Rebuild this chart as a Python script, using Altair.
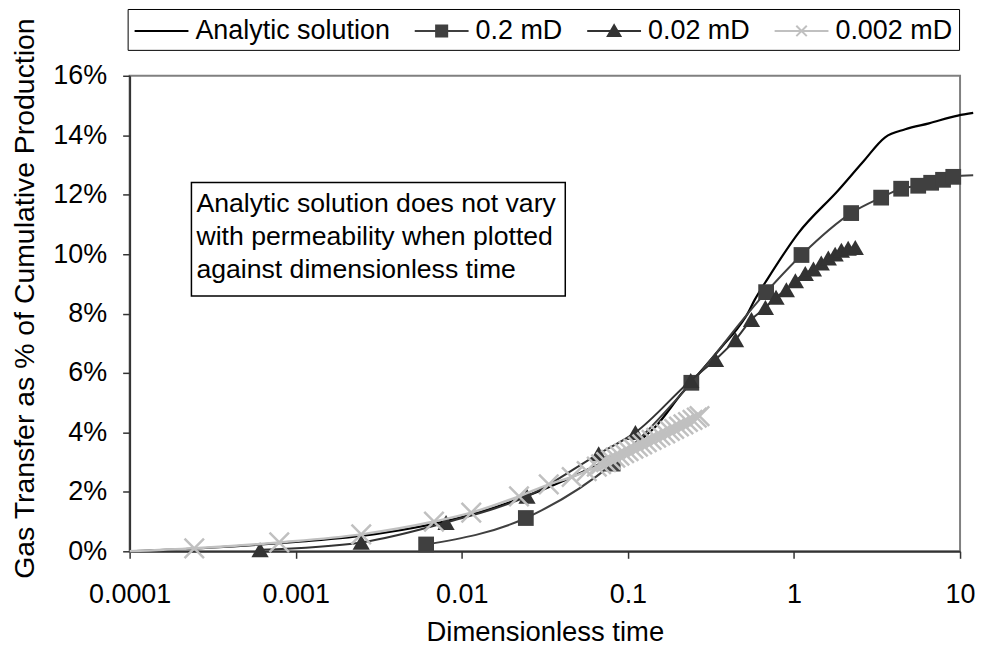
import altair as alt
import pandas as pd

FONT = "Liberation Sans"

series_names = ["Analytic solution", "0.2 mD", "0.02 mD", "0.002 mD"]
series_colors = ["#000000", "#404040", "#333333", "#c0c0c0"]
legend_paths = [
    "M-1.8,0H1.8",
    "M-1.8,0H1.8M-0.37,-0.37H0.37V0.37H-0.37Z",
    "M-1.8,0H1.8M0,-0.38L0.42,0.34H-0.42Z",
    "M-1.8,0H1.8M-0.35,-0.35L0.35,0.35M-0.35,0.35L0.35,-0.35",
]

# Analytic solution (line only)
analytic_t = [0.0001, 0.0003, 0.001, 0.003, 0.01, 0.03, 0.06, 0.1, 0.147, 0.21, 0.3, 0.37,
              0.45, 0.52, 0.58, 0.7, 1.06, 1.85, 2.6, 3.54, 4.68, 6.5, 9.7, 12.0]
analytic_v = [0.0, 0.12, 0.32, 0.58, 1.15, 2.05, 2.8, 3.45, 4.2, 5.3, 6.3, 6.9,
              7.45, 7.95, 8.46, 9.2, 10.7, 12.15, 13.1, 13.93, 14.2, 14.4, 14.66, 14.75]

# 0.2 mD (squares)
sq_t = [0.0061, 0.0243, 0.081, 0.241, 0.68, 1.11, 2.21, 3.35, 4.42, 5.6, 6.7, 7.9, 9.1]
sq_v = [0.23, 1.12, 2.95, 5.67, 8.72, 9.97, 11.38, 11.9, 12.2, 12.3, 12.4, 12.5, 12.6]
sq_line_t = sq_t + [12.0]
sq_line_v = sq_v + [12.65]

# 0.02 mD (triangles)
tri_t = [0.00061, 0.00248, 0.00804, 0.0247, 0.0667, 0.111, 0.239, 0.337, 0.445, 0.555,
         0.673, 0.78, 0.90, 1.02, 1.17, 1.31, 1.46, 1.61, 1.77, 1.93, 2.12, 2.34]
tri_v = [0.05, 0.3, 0.97, 1.85, 3.28, 4.0, 5.75, 6.45, 7.12, 7.8, 8.2, 8.55, 8.8, 9.1,
         9.35, 9.5, 9.7, 9.87, 10.0, 10.13, 10.2, 10.22]

# 0.002 mD (x markers)
x_t = [0.0001, 0.000245, 0.000796, 0.00248, 0.0068, 0.0114, 0.0221, 0.0334, 0.0459, 0.0565,
       0.065, 0.069, 0.074, 0.079, 0.084, 0.089, 0.095, 0.101, 0.108, 0.115, 0.122, 0.130,
       0.139, 0.148, 0.157, 0.168, 0.179, 0.190, 0.203, 0.216, 0.230, 0.245, 0.26, 0.27]
x_v = [0.0, 0.1, 0.3, 0.57, 1.0, 1.3, 1.85, 2.25, 2.5, 2.7,
       2.85, 2.93, 3.0, 3.08, 3.15, 3.22, 3.3, 3.37, 3.45, 3.52, 3.6, 3.67,
       3.75, 3.82, 3.9, 3.97, 4.05, 4.12, 4.2, 4.27, 4.35, 4.42, 4.5, 4.55]

x_ticks = [0.0001, 0.001, 0.01, 0.1, 1, 10]
y_ticks = [0, 2, 4, 6, 8, 10, 12, 14, 16]

note_text = "Analytic solution does not vary\nwith permeability when plotted\nagainst dimensionless time"


def frame(t, v):
    return pd.DataFrame({"t": t, "v": v})


x_enc = alt.X(
    "t:Q",
    scale=alt.Scale(type="log", domain=[0.0001, 10], nice=False),
    axis=alt.Axis(
        values=x_ticks, format="~g", title="Dimensionless time", grid=False,
        labelFont=FONT, labelFontSize=27, labelColor="#000", labelPadding=23,
        titleFont=FONT, titleFontSize=27.5, titleFontWeight="normal", titleColor="#000",
        titlePadding=11, tickSize=7, tickColor="#333", tickWidth=1.5,
        domainColor="#333", domainWidth=2, labelFlush=False, labelOverlap=False,
    ),
)
y_enc = alt.Y(
    "v:Q",
    scale=alt.Scale(domain=[0, 16], nice=False),
    axis=alt.Axis(
        values=y_ticks, labelExpr="datum.value + '%'",
        title="Gas Transfer as % of Cumulative Production", grid=False,
        labelFont=FONT, labelFontSize=27, labelColor="#000", labelPadding=16,
        titleFont=FONT, titleFontSize=28.5, titleFontWeight="normal", titleColor="#000",
        titlePadding=13, titleY=223, tickSize=7, tickColor="#333", tickWidth=1.5,
        domainColor="#333", domainWidth=2, labelFlush=False,
    ),
)

analytic_line = alt.Chart(frame(analytic_t, analytic_v)).mark_line(
    color="#000000", strokeWidth=2.2, interpolate="monotone", clip=False
).encode(x=x_enc, y=y_enc)

sq_line = alt.Chart(frame(sq_line_t, sq_line_v)).mark_line(
    color="#404040", strokeWidth=2, interpolate="monotone", clip=False
).encode(x=x_enc, y=y_enc)
sq_pts = alt.Chart(frame(sq_t, sq_v)).mark_point(
    shape="square", filled=True, size=250, color="#404040", opacity=1
).encode(x=x_enc, y=y_enc)

tri_line = alt.Chart(frame(tri_t, tri_v)).mark_line(
    color="#333333", strokeWidth=2, interpolate="monotone"
).encode(x=x_enc, y=y_enc)
tri_pts = alt.Chart(frame(tri_t, tri_v)).mark_point(
    shape="triangle-up", filled=True, size=300, color="#333333", opacity=1
).encode(x=x_enc, y=y_enc)

x_line = alt.Chart(frame(x_t, x_v)).mark_line(
    color="#c0c0c0", strokeWidth=2.5, interpolate="monotone"
).encode(x=x_enc, y=y_enc)
x_pts = alt.Chart(frame(x_t[1:], x_v[1:])).mark_point(
    shape="M-1,-1L1,1M-1,1L1,-1", filled=False, size=380, color="#c0c0c0",
    strokeWidth=2.5, opacity=1
).encode(x=x_enc, y=y_enc)

leg = alt.Legend(
    title=None, orient="none", legendX=-2, legendY=-67, direction="horizontal", columns=4,
    symbolSize=900, symbolStrokeWidth=2, symbolOpacity=1, symbolOffset=12,
    labelFont=FONT, labelFontSize=27,
    labelColor="#000", labelOffset=18, columnPadding=20, padding=6,
    strokeColor="#000", fillColor="#ffffff", labelLimit=400,
)
legend_df = pd.DataFrame({"series": series_names, "t": [1, 1, 1, 1], "v": [1, 1, 1, 1]})
legend_layer = alt.Chart(legend_df).mark_point(filled=True, opacity=0).encode(
    x=x_enc, y=y_enc,
    color=alt.Color("series:N", sort=series_names,
                    scale=alt.Scale(domain=series_names, range=series_colors), legend=leg),
    stroke=alt.Stroke("series:N", sort=series_names,
                      scale=alt.Scale(domain=series_names, range=series_colors), legend=leg),
    shape=alt.Shape("series:N", sort=series_names,
                    scale=alt.Scale(domain=series_names, range=legend_paths), legend=leg),
)

note_box = alt.Chart(pd.DataFrame({"a": [0]})).mark_rect(
    fill="#ffffff", stroke="#000000", strokeWidth=1.5
).encode(x=alt.value(62), x2=alt.value(437), y=alt.value(107), y2=alt.value(221))
note = alt.Chart(pd.DataFrame({"txt": [note_text]})).mark_text(
    align="left", baseline="alphabetic", font=FONT, fontSize=26.7, lineHeight=33,
    lineBreak="\n", color="#000"
).encode(x=alt.value(67), y=alt.value(137), text="txt:N")

chart = alt.layer(
    analytic_line, sq_line, sq_pts, tri_line, tri_pts, x_line, x_pts,
    legend_layer, note_box, note
).properties(
    width=833, height=477,
    autosize=alt.AutoSizeParams(type="none"),
    padding={"left": 122, "top": 67, "right": 15, "bottom": 95},
).configure_view(stroke="#808080", strokeWidth=2)

chart.save("out.html", embed_options={"renderer": "svg", "actions": False})
